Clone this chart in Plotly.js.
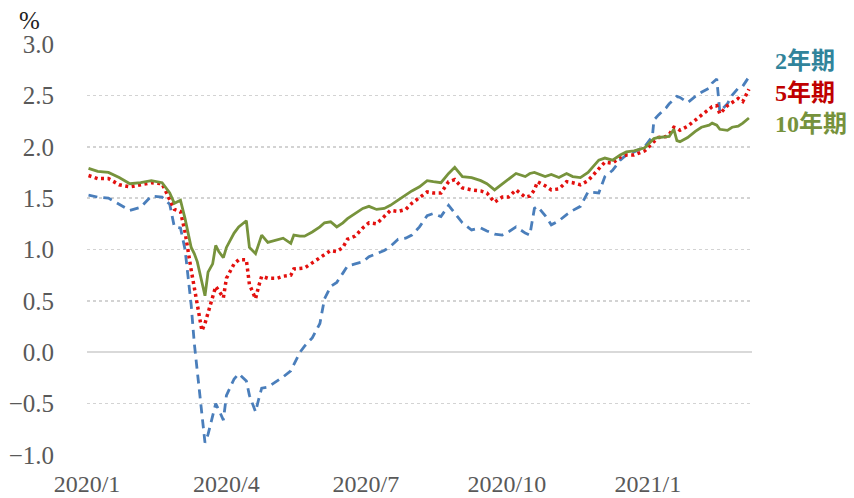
<!DOCTYPE html>
<html>
<head>
<meta charset="utf-8">
<script src="https://cdn.plot.ly/plotly-3.0.1.min.js"></script>
<style>html,body{margin:0;padding:0;background:#fff;}#chart{width:854px;height:498px;}</style>
</head>
<body>
<div id="chart"></div>
<script>
const dates = ['2020-01-02','2020-01-08','2020-01-15','2020-01-22','2020-01-29','2020-02-05','2020-02-12','2020-02-19','2020-02-24','2020-02-27',
'2020-03-02','2020-03-05','2020-03-09','2020-03-11','2020-03-13','2020-03-16','2020-03-18','2020-03-20','2020-03-23','2020-03-25','2020-03-27','2020-03-30',
'2020-04-01','2020-04-06','2020-04-09','2020-04-14','2020-04-16','2020-04-20','2020-04-22','2020-04-24','2020-04-28',
'2020-05-04','2020-05-08','2020-05-13','2020-05-15','2020-05-19','2020-05-22','2020-05-27',
'2020-06-01','2020-06-04','2020-06-08','2020-06-12','2020-06-16','2020-06-19','2020-06-24','2020-06-29',
'2020-07-03','2020-07-08','2020-07-13','2020-07-17','2020-07-22','2020-07-27','2020-07-31',
'2020-08-05','2020-08-10','2020-08-14','2020-08-19','2020-08-24','2020-08-28',
'2020-09-02','2020-09-08','2020-09-14','2020-09-18','2020-09-23','2020-09-28',
'2020-10-02','2020-10-07','2020-10-13','2020-10-16','2020-10-19','2020-10-21','2020-10-26','2020-10-30',
'2020-11-04','2020-11-09','2020-11-13','2020-11-18','2020-11-23','2020-11-30',
'2020-12-04','2020-12-09','2020-12-14','2020-12-18','2020-12-23','2020-12-30',
'2021-01-04','2021-01-05','2021-01-08','2021-01-13','2021-01-15','2021-01-18','2021-01-20','2021-01-22','2021-01-27',
'2021-02-01','2021-02-05','2021-02-10','2021-02-12','2021-02-15','2021-02-17','2021-02-22','2021-02-25',
'2021-03-01','2021-03-04','2021-03-08'];

const y2 = [1.53,1.51,1.50,1.44,1.38,1.41,1.52,1.51,1.44,1.22,
1.21,1.00,0.46,0.09,-0.20,-0.58,-0.88,-0.80,-0.60,-0.50,-0.56,-0.66,
-0.42,-0.26,-0.21,-0.28,-0.42,-0.58,-0.46,-0.35,-0.34,
-0.28,-0.24,-0.18,-0.12,0.00,0.06,0.14,
0.28,0.52,0.64,0.68,0.77,0.84,0.86,0.88,
0.93,0.96,0.99,1.03,1.10,1.11,1.14,
1.22,1.33,1.35,1.32,1.43,1.35,
1.26,1.19,1.21,1.18,1.15,1.14,
1.17,1.22,1.16,1.14,1.40,1.42,1.33,1.24,
1.28,1.34,1.38,1.42,1.56,1.55,
1.71,1.77,1.87,1.92,1.95,2.00,
2.10,2.26,2.31,2.38,2.42,2.46,2.49,2.48,2.43,
2.49,2.53,2.57,2.62,2.66,2.34,2.42,2.50,
2.57,2.59,2.68];

const y5 = [1.72,1.69,1.69,1.63,1.61,1.63,1.65,1.64,1.48,1.39,
1.37,1.17,0.80,0.62,0.45,0.21,0.28,0.38,0.52,0.64,0.60,0.53,
0.72,0.86,0.90,0.90,0.66,0.52,0.64,0.74,0.72,
0.72,0.74,0.75,0.81,0.82,0.82,0.87,
0.92,0.95,0.99,0.98,1.02,1.10,1.13,1.21,
1.26,1.25,1.32,1.38,1.37,1.39,1.45,
1.51,1.56,1.55,1.55,1.66,1.68,
1.60,1.58,1.57,1.55,1.46,1.51,
1.51,1.58,1.51,1.52,1.58,1.66,1.62,1.58,
1.59,1.66,1.65,1.63,1.67,1.79,
1.85,1.84,1.90,1.92,1.92,1.96,
2.04,2.05,2.09,2.10,2.12,2.19,2.18,2.16,2.20,
2.26,2.31,2.36,2.39,2.40,2.32,2.40,2.43,
2.47,2.44,2.56];

const y10 = [1.79,1.76,1.75,1.70,1.64,1.65,1.67,1.65,1.55,1.45,
1.48,1.30,1.02,0.96,0.88,0.66,0.55,0.78,0.86,1.04,0.98,0.92,
1.02,1.16,1.22,1.28,1.02,0.96,1.06,1.14,1.07,
1.09,1.11,1.06,1.14,1.13,1.13,1.17,
1.22,1.26,1.27,1.22,1.26,1.30,1.35,1.40,
1.42,1.39,1.40,1.43,1.48,1.53,1.57,
1.61,1.67,1.66,1.65,1.74,1.80,
1.71,1.70,1.67,1.64,1.58,1.64,
1.68,1.74,1.71,1.74,1.75,1.74,1.71,1.73,
1.70,1.74,1.71,1.70,1.75,1.87,
1.89,1.87,1.92,1.95,1.96,1.99,
2.07,2.08,2.09,2.10,2.10,2.17,2.06,2.05,2.09,
2.15,2.19,2.21,2.23,2.21,2.17,2.16,2.19,
2.20,2.23,2.28];

const seriesNames = ['2年期','5年期','10年期'];
const tickVals = ['2020-01-01','2020-04-01','2020-07-01','2020-10-01','2021-01-01'];
const tickText = ['2020/1','2020/4','2020/7','2020/10','2021/1'];
const yTicks = [-1.0,-0.5,0.0,0.5,1.0,1.5,2.0,2.5,3.0];

const serif = 'Liberation Serif, "Times New Roman", serif';
const cjk = 'Liberation Serif, "Noto Sans CJK SC", serif';

const traces = [
  {x: dates, y: y2, name: seriesNames[0], mode: 'lines', line: {color: '#4A7EBB', width: 2.8, dash: '9px,6px'}},
  {x: dates, y: y5, name: seriesNames[1], mode: 'lines', line: {color: '#E3100E', width: 3.5, dash: '3px,3.5px'}},
  {x: dates, y: y10, name: seriesNames[2], mode: 'lines', line: {color: '#77933C', width: 2.8}}
];

const labelColors = ['#31849B', '#C00000', '#76923C'];
const labelY = [0.9586, 0.8808, 0.8054];
const annotations = seriesNames.map((n, i) => ({
  text: '<b>' + n + '</b>', xref: 'paper', yref: 'paper', x: 1.0316, y: labelY[i],
  xanchor: 'left', yanchor: 'middle', showarrow: false,
  font: {family: cjk, size: 24, color: labelColors[i]}
}));
annotations.push({
  text: '%', xref: 'paper', yref: 'paper', x: -0.087, y: 1.058,
  xanchor: 'center', yanchor: 'middle', showarrow: false,
  font: {family: serif, size: 25, color: '#222222'}
});

const layout = {
  width: 854, height: 498,
  margin: {l: 87, r: 102, t: 44, b: 43},
  paper_bgcolor: '#ffffff', plot_bgcolor: '#ffffff',
  showlegend: false,
  xaxis: {
    type: 'date', range: ['2020-01-01', '2021-03-10'],
    tickvals: tickVals, ticktext: tickText,
    showgrid: false, zeroline: false, showline: false, ticks: '',
    tickfont: {family: serif, size: 24, color: '#595959'},
    ticklabelstandoff: 12
  },
  yaxis: {
    range: [-1, 3], tickvals: yTicks, tickformat: '.1f',
    showgrid: true, gridcolor: '#D3D3D3', gridwidth: 1.5, griddash: 'dot',
    zeroline: true, zerolinecolor: '#D9D9D9', zerolinewidth: 2,
    showline: false, ticks: '',
    tickfont: {family: serif, size: 25, color: '#595959'},
    ticklabelstandoff: 32
  },
  annotations: annotations
};

Plotly.newPlot('chart', traces, layout, {displayModeBar: false, staticPlot: true});
</script>
</body>
</html>
